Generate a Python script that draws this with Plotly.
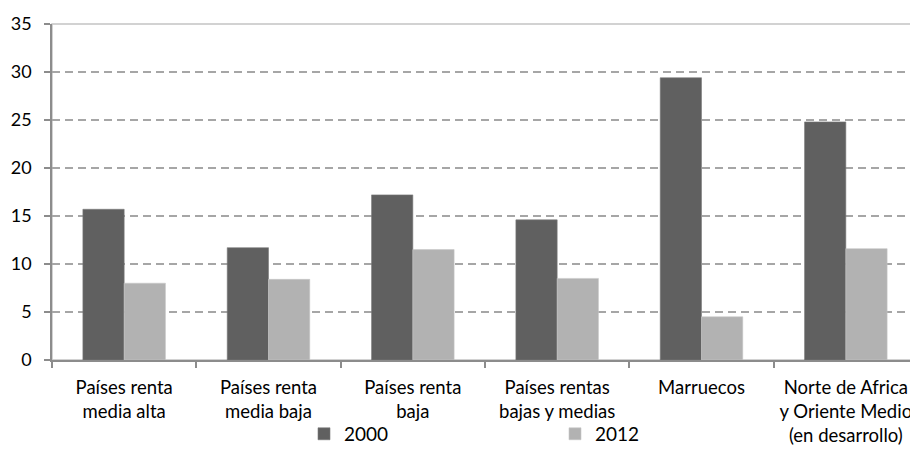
import plotly.graph_objects as go

categories = [
    "Países renta<br>media alta",
    "Países renta<br>media baja",
    "Países renta<br>baja",
    "Países rentas<br>bajas y medias",
    "Marruecos",
    "Norte de Africa<br>y Oriente Medio<br>(en desarrollo)",
]
values_2000 = [15.7, 11.7, 17.2, 14.6, 29.4, 24.8]
values_2012 = [8.0, 8.4, 11.5, 8.5, 4.5, 11.6]
series_names = ["2000", "2012"]
y_ticks = [0, 5, 10, 15, 20, 25, 30, 35]

FONT = "Lato"
fig = go.Figure()
fig.add_trace(go.Bar(x=categories, y=values_2000, name=series_names[0],
                     marker=dict(color="#606060", line=dict(color="#7a7a7a", width=0.6))))
fig.add_trace(go.Bar(x=categories, y=values_2012, name=series_names[1],
                     marker=dict(color="#b2b2b2", line=dict(color="#c8c8c8", width=0.6))))

# page body has an 8px margin, so the figure is 8px smaller and offset
fig.update_layout(
    width=910, height=441,
    margin=dict(l=44, r=0, t=16, b=89, pad=0, autoexpand=False),
    paper_bgcolor="white", plot_bgcolor="white",
    font=dict(family=FONT, size=19, color="#000000"),
    barmode="group", bargap=0.428, bargroupgap=0,
    showlegend=True,
    legend=dict(orientation="h", x=0.291, xanchor="left", y=-0.22, yanchor="middle",
                entrywidth=206, entrywidthmode="pixels",
                font=dict(family=FONT, size=19, color="#000000"),
                bgcolor="rgba(0,0,0,0)", borderwidth=0, tracegroupgap=0),
    hovermode=False,
)
fig.update_xaxes(
    type="category", showline=True, linecolor="#8c8c8c", linewidth=1.5,
    ticks="outside", tickson="boundaries", ticklen=6, tickcolor="#8c8c8c", tickwidth=1.5,
    showgrid=False, tickfont=dict(family=FONT, size=18.5, color="#000000"),
    tickangle=0, automargin=False, ticklabelstandoff=10,
)
fig.update_yaxes(
    range=[0, 35], tickvals=y_ticks, showline=True, linecolor="#8c8c8c", linewidth=1.5,
    ticks="outside", ticklen=6, tickcolor="#8c8c8c", tickwidth=1.5,
    showgrid=True, gridcolor="#a6a6a6", gridwidth=1.5, griddash="8px,5px",
    zeroline=False, tickfont=dict(family=FONT, size=18, color="#000000"),
    automargin=False, ticklabelstandoff=9,
)
fig.add_shape(type="rect", xref="paper", yref="paper", x0=0, x1=1, y0=0, y1=1,
              line=dict(color="#c4c4c4", width=1.5), fillcolor="rgba(0,0,0,0)", layer="below")
fig.write_html("out.html")
